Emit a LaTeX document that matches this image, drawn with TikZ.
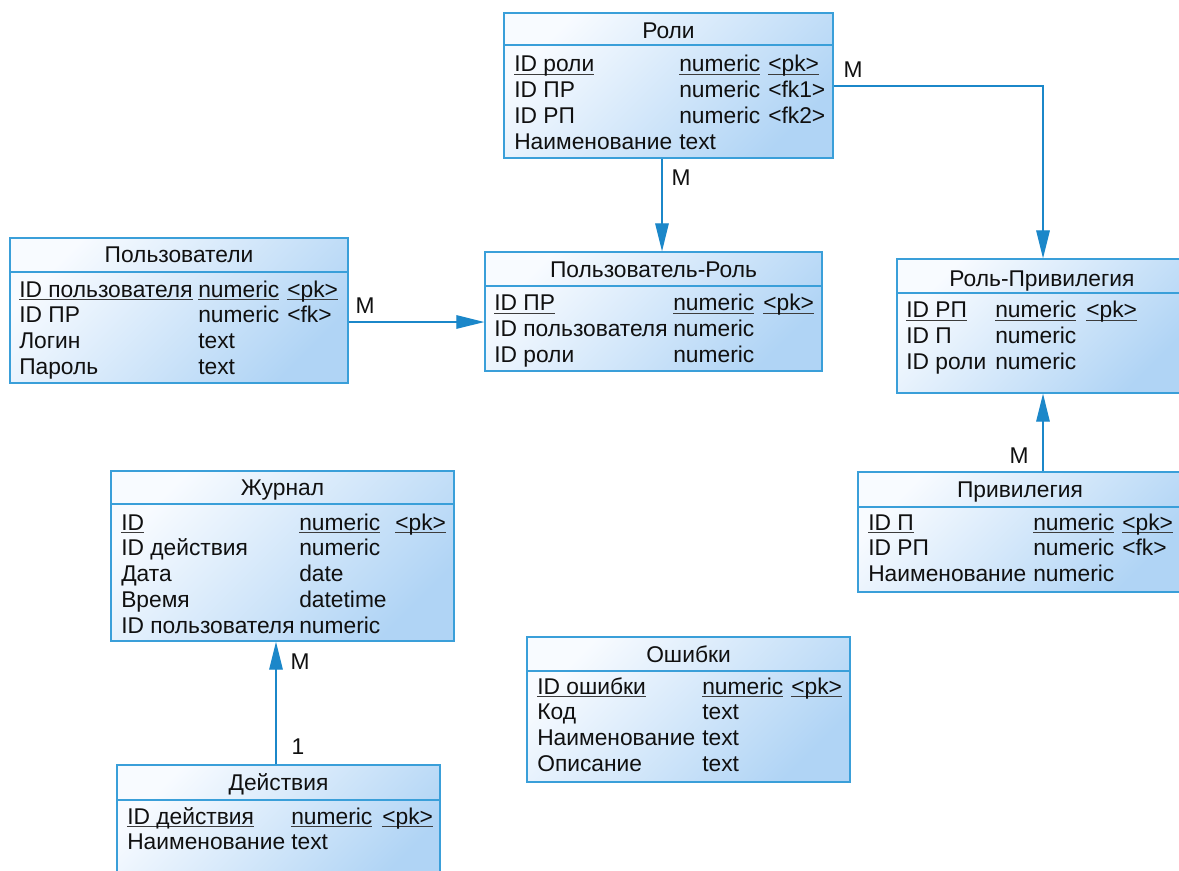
\documentclass[tikz,border=0pt]{standalone}
\usepackage{fontspec}
\setmainfont{Liberation Sans}
\usetikzlibrary{arrows.meta,fit,calc}
\definecolor{edge}{HTML}{3A9FD9}
\definecolor{wire}{HTML}{1B87C9}
\definecolor{shadetop}{HTML}{F8FBFF}
\definecolor{shadebot}{HTML}{B0D4F5}
\definecolor{ink}{HTML}{101010}
\definecolor{ulc}{HTML}{3C3C3C}
\newcommand\erfont{\fontsize{16.2}{18}\selectfont}
\newcommand\ul[1]{\setbox0\hbox{#1}\rlap{\color{ulc}\vrule width\wd0 height -1.3pt depth 2.3pt}\box0}
\tikzset{
  tbl/.style={draw=edge, line width=1pt, inner sep=0pt,
              top color=shadetop, bottom color=shadebot, shading angle=45},
  tline/.style={draw=edge, line width=1pt},
  ttl/.style={anchor=base, inner sep=0pt, font=\erfont, text=ink},
  fld/.style={anchor=base west, inner sep=0pt, font=\erfont, text=ink},
  card/.style={anchor=center, inner sep=0pt, font=\erfont, text=ink},
  rel/.style={draw=wire, line width=0.9pt, -{Triangle[length=0.7cm,width=0.34cm]}},
}
% table frame: name, x1, y1, x2, y2, separator y
\newcommand\ertbl[6]{%
  \node[tbl, fit={(#2,#3) (#4,#5)}] (#1) {};
  \draw[tline] (#2,#6) -- (#4,#6);}
% rows: name, x of names, x of types, first baseline, list name/type
\newcommand\erows[5]{%
  \foreach \nm/\ty [count=\i from 0] in {#5}{
    \node[fld] (#1-n\i) at (#2,{#4+25.8*\i}) {\nm};
    \node[fld] (#1-t\i) at (#3,{#4+25.8*\i}) {\ty};}}
% keys: name, x, first baseline, list key/row
\newcommand\ekeys[4]{%
  \foreach \ky/\i in {#4}{
    \node[fld] (#1-k\i) at (#2,{#3+25.8*\i}) {\ky};}}

\begin{document}
\begin{tikzpicture}[x=0.025cm, y=-0.025cm]
  \clip (0,0) rectangle (1179,870);
  \fill[white] (0,0) rectangle (1179,870);

  % Роли
  \ertbl{roli}{504}{13}{833}{158}{45}
  \node[ttl] (roli-h) at (668.5,38.3) {Роли};
  \erows{roli}{514}{679}{71.7}{{\ul{ID роли}}/{\ul{numeric}}, ID ПР/numeric, ID РП/numeric, Наименование/text}
  \ekeys{roli}{768}{71.7}{{\ul{<pk>}}/0, <fk1>/1, <fk2>/2}

  % Пользователи
  \ertbl{polz}{10}{238}{348}{383}{272}
  \node[ttl] (polz-h) at (179,262.5) {Пользователи};
  \erows{polz}{19}{198}{297}{{\ul{ID пользователя}}/{\ul{numeric}}, ID ПР/numeric, Логин/text, Пароль/text}
  \ekeys{polz}{287}{297}{{\ul{<pk>}}/0, <fk>/1}

  % Пользователь-Роль
  \ertbl{polrol}{485}{252}{822}{371}{286}
  \node[ttl] (polrol-h) at (653.5,277.3) {Пользователь-Роль};
  \erows{polrol}{494}{673}{310.7}{{\ul{ID ПР}}/{\ul{numeric}}, ID пользователя/numeric, ID роли/numeric}
  \ekeys{polrol}{763}{310.7}{{\ul{<pk>}}/0}

  % Роль-Привилегия
  \ertbl{rolpriv}{897}{259}{1187}{393}{293}
  \node[ttl] (rolpriv-h) at (1042,286) {Роль-Привилегия};
  \erows{rolpriv}{906}{995}{317.7}{{\ul{ID РП}}/{\ul{numeric}}, ID П/numeric, ID роли/numeric}
  \ekeys{rolpriv}{1086}{317.7}{{\ul{<pk>}}/0}

  % Привилегия
  \ertbl{priv}{858}{472}{1182}{592}{507}
  \node[ttl] (priv-h) at (1020,497.5) {Привилегия};
  \erows{priv}{868}{1033}{530}{{\ul{ID П}}/{\ul{numeric}}, ID РП/numeric, Наименование/numeric}
  \ekeys{priv}{1122}{530}{{\ul{<pk>}}/0, <fk>/1}

  % Журнал
  \ertbl{zhurn}{111}{471}{454}{641}{504}
  \node[ttl] (zhurn-h) at (282.5,495) {Журнал};
  \erows{zhurn}{121}{299}{530}{{\ul{ID}}/{\ul{numeric}}, ID действия/numeric, Дата/date, Время/datetime, ID пользователя/numeric}
  \ekeys{zhurn}{395}{530}{{\ul{<pk>}}/0}

  % Ошибки
  \ertbl{osh}{527}{637}{850}{782}{671}
  \node[ttl] (osh-h) at (688.5,662.5) {Ошибки};
  \erows{osh}{537}{702}{694}{{\ul{ID ошибки}}/{\ul{numeric}}, Код/text, Наименование/text, Описание/text}
  \ekeys{osh}{791}{694}{{\ul{<pk>}}/0}

  % Действия
  \ertbl{deist}{117}{765}{440}{885}{800}
  \node[ttl] (deist-h) at (278.5,790) {Действия};
  \erows{deist}{127}{291}{824}{{\ul{ID действия}}/{\ul{numeric}}, Наименование/text}
  \ekeys{deist}{382}{824}{{\ul{<pk>}}/0}

  % links
  \coordinate (xa) at (662,0);
  \coordinate (xb) at (1043,0);
  \coordinate (xc) at (276,0);
  \coordinate (ya) at (0,86);
  \coordinate (yb) at (0,322);
  \draw[rel] (roli.south -| xa) -- (polrol.north -| xa);
  \draw[rel] (roli.east |- ya) -| (rolpriv.north -| xb);
  \draw[rel] (polz.east |- yb) -- (polrol.west |- yb);
  \draw[rel] (priv.north -| xb) -- (rolpriv.south -| xb);
  \draw[rel] (deist.north -| xc) -- (zhurn.south -| xc);

  \node[card] (m-a) at (681,178) {M};
  \node[card] (m-b) at (853,70) {M};
  \node[card] (m-c) at (365,306) {M};
  \node[card] (m-d) at (1019,456) {M};
  \node[card] (m-e) at (300,662) {M};
  \node[card] (one) at (298,747) {1};
\end{tikzpicture}
\end{document}
